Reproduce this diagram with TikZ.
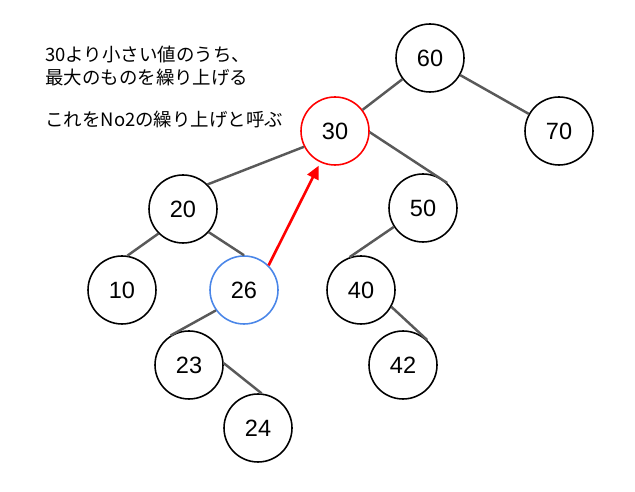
\documentclass[tikz,border=0pt]{standalone}
\usepackage{fontspec}
\setmainfont{Liberation Sans}
\newfontfamily\jpfont{Noto Sans CJK JP}
\usepackage{xcolor}
\usetikzlibrary{arrows.meta}

\definecolor{edgegray}{HTML}{595959}
\definecolor{markred}{HTML}{FF0000}
\definecolor{markblue}{HTML}{4A86E8}

\begin{document}
\begin{tikzpicture}
            [x=0.02cm, y=-0.02cm, font=\fontsize{13.4pt}{16pt}\selectfont,
             key/.style={draw, circle, line width=0.9pt, minimum size=1.36cm, inner sep=0pt},
             edge/.style={draw=edgegray, line width=1.4pt}]
            \useasboundingbox (0,0) rectangle (635,492);

            \node[anchor=north west, inner sep=0pt, align=left,
                  font=\jpfont\fontsize{10.5pt}{13pt}\selectfont] (note) at (45,46) {
                30より小さい値のうち、\\
                最大のものを繰り上げる\\[11pt]
                これをNo2の繰り上げと呼ぶ
            };

            \node[key] (n60) at (430,58) {60};
            \node[key, draw=markred] (n30) at (335,131) {30};
            \node[key] (n70) at (559,131) {70};
            \node[key] (n20) at (183,209) {20};
            \node[key] (n50) at (423,208) {50};
            \node[key] (n10) at (122,290) {10};
            \node[key, draw=markblue] (n26) at (244,290) {26};
            \node[key] (n40) at (361,290) {40};
            \node[key] (n23) at (189,365) {23};
            \node[key] (n42) at (403,365) {42};
            \node[key] (n24) at (258,428) {24};

            \draw[edge] (n60) -- (n30);
            \draw[edge] (n60) -- (n70);
            \draw[edge] (n30.207) -- (n20.north east);
            \draw[edge] (n30.-2) -- (n50.46);
            \draw[edge] (n20.south west) -- (n10.81);
            \draw[edge] (n20.-42) -- (n26.north);
            \draw[edge] (n50.213) -- (n40.109);
            \draw[edge] (n40.-29) -- (n42.46);
            \draw[edge] (n26.216) -- (n23.122);
            \draw[edge] (n23.3) -- (n24.84);

            \draw[-{Triangle[length=7.5pt, width=6.8pt]}, draw=markred, fill=markred, line width=1.5pt, shorten >=2pt] (n26.north east) -- (n30.245);
        \end{tikzpicture}
\end{document}
